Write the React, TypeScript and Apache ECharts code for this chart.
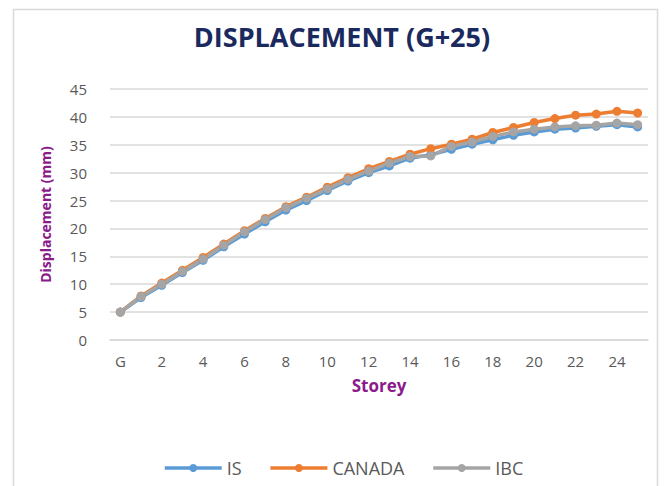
import React, { useEffect, useRef } from "react";
import * as echarts from "echarts";

const storeys = ["G", "1", "2", "3", "4", "5", "6", "7", "8", "9", "10", "11", "12", "13", "14", "15", "16", "17", "18", "19", "20", "21", "22", "23", "24", "25"];
const isValues = [5.0, 7.6, 9.8, 12.1, 14.3, 16.7, 19.0, 21.2, 23.3, 25.0, 26.8, 28.5, 30.0, 31.2, 32.6, 33.2, 34.2, 35.1, 35.9, 36.7, 37.3, 37.8, 38.0, 38.3, 38.6, 38.2];
const canadaValues = [5.0, 7.9, 10.2, 12.5, 14.8, 17.2, 19.6, 21.8, 23.9, 25.6, 27.4, 29.1, 30.7, 32.0, 33.3, 34.3, 35.1, 36.0, 37.2, 38.1, 39.0, 39.7, 40.3, 40.5, 41.0, 40.7];
const ibcValues = [5.0, 7.8, 10.0, 12.3, 14.5, 17.0, 19.4, 21.6, 23.7, 25.4, 27.1, 28.8, 30.3, 31.7, 32.9, 33.0, 34.7, 35.5, 36.5, 37.3, 37.8, 38.2, 38.4, 38.5, 38.9, 38.6];
const yTicks = { min: 0, max: 45, interval: 5 };

const FONT = "'Open Sans', 'Noto Sans', sans-serif";

export default function App() {
  const ref = useRef<HTMLDivElement>(null);
  useEffect(() => {
    if (!ref.current) return;
    const chart = echarts.init(ref.current, null, { renderer: "svg" });
    const mk = (name: string, data: number[], color: string) => ({
      name,
      type: "line",
      data,
      symbol: "circle",
      symbolSize: 9,
      lineStyle: { width: 3.5, color },
      itemStyle: { color },
      color,
    });
    chart.setOption({
      animation: false,
      backgroundColor: "#ffffff",
      textStyle: { fontFamily: FONT },
      title: {
        text: "DISPLACEMENT (G+25)",
        left: 337,
        textAlign: "center",
        top: 18,
        textStyle: { fontSize: 27, fontWeight: "bold", color: "#1B2A5E", fontFamily: FONT },
      },
      graphic: [
        {
          type: "rect",
          shape: { x: 13.5, y: 9.5, width: 644, height: 480 },
          style: { fill: "none", stroke: "#d9d9d9", lineWidth: 1.5 },
          silent: true,
        },
      ],
      grid: { left: 110, right: 18, top: 89, bottom: 146 },
      legend: {
        top: 454,
        left: 158,
        itemWidth: 57,
        itemHeight: 10,
        itemGap: 27,
        lineStyle: { width: 3.5 },
        textStyle: { fontSize: 18, color: "#595959", fontFamily: FONT },
        data: ["IS", "CANADA", "IBC"],
      },
      xAxis: {
        type: "category",
        data: storeys,
        boundaryGap: true,
        name: "Storey",
        nameLocation: "middle",
        nameGap: 37,
        nameTextStyle: { fontSize: 17, fontWeight: "bold", color: "#8B1A8B", fontFamily: FONT },
        axisLine: { show: true, lineStyle: { color: "#d9d9d9", width: 1.5 } },
        axisTick: { show: false },
        axisLabel: { interval: 1, fontSize: 15, color: "#595959", margin: 13, fontFamily: FONT },
      },
      yAxis: {
        type: "value",
        min: yTicks.min,
        max: yTicks.max,
        interval: yTicks.interval,
        name: "Displacement (mm)",
        nameLocation: "middle",
        nameGap: 58,
        nameTextStyle: { fontSize: 14, fontWeight: "bold", color: "#8B1A8B", fontFamily: FONT },
        axisLine: { show: false },
        axisTick: { show: false },
        splitLine: { lineStyle: { color: "#d9d9d9", width: 1.5 } },
        axisLabel: { fontSize: 15, color: "#595959", margin: 23, fontFamily: FONT },
      },
      series: [
        mk("IS", isValues, "#5B9BD5"),
        mk("CANADA", canadaValues, "#ED7D31"),
        mk("IBC", ibcValues, "#A5A5A5"),
      ],
    });
    return () => chart.dispose();
  }, []);
  return <div ref={ref} style={{ position: "fixed", left: 0, top: 0, width: 666, height: 486 }} />;
}
